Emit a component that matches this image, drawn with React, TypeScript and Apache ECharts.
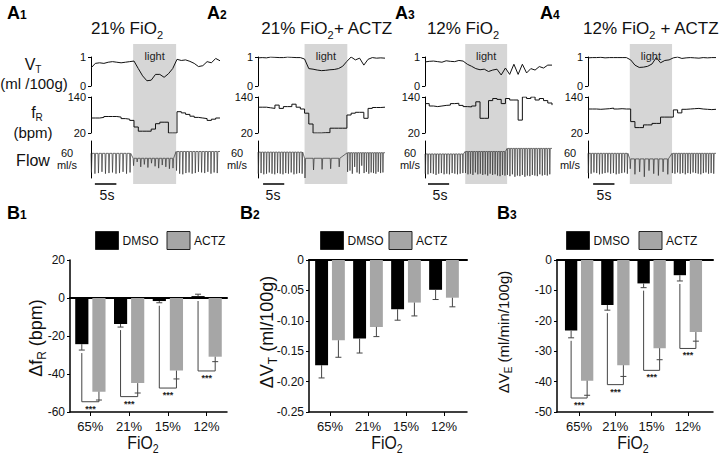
import { useEffect, useRef } from 'react';
import * as echarts from 'echarts';

const FONT = '"Liberation Sans", Arial, Helvetica, sans-serif';
const INK = '#111';

// ---------------- A: recordings (time in s, 0..30) ----------------
const traceTimes = [0, 1, 2, 3, 4, 5, 6, 7, 8, 9, 10, 11, 12, 13, 14, 15, 16, 17, 18, 19, 20, 21, 22, 23, 24, 25, 26, 27, 28, 29, 30];

const a1Vt = [0.62, 0.78, 0.8, 0.78, 0.82, 0.84, 0.82, 0.8, 0.82, 0.84, 0.86, 0.6, 0.35, 0.18, 0.2, 0.4, 0.4, 0.3, 0.42, 0.6, 0.92, 0.88, 0.9, 0.85, 0.78, 0.67, 0.7, 0.84, 0.8, 0.95, 0.87];
const a1Fr = [70, 70, 72, 75, 75, 75, 73, 68, 66, 62, 40, 26, 26, 26, 33, 51, 56, 56, 20, 20, 91, 87, 82, 76, 72, 70, 68, 62, 66, 70, 70];
const a2Vt = [0.97, 0.98, 0.97, 1.0, 0.99, 0.98, 0.98, 1.0, 0.99, 0.98, 0.98, 0.93, 0.6, 0.58, 0.55, 0.53, 0.54, 0.56, 0.57, 0.6, 0.68, 0.85, 1.0, 0.9, 0.96, 0.72, 0.92, 0.98, 0.96, 0.97, 0.96];
const a2Fr = [106, 106, 104, 102, 113, 102, 108, 108, 116, 106, 100, 86, 50, 20, 20, 21, 21, 36, 36, 36, 36, 80, 86, 89, 89, 69, 102, 105, 105, 106, 106];
const a3Vt = [0.83, 0.85, 0.86, 0.84, 0.82, 0.87, 0.85, 0.84, 0.88, 0.86, 0.75, 0.68, 0.6, 0.56, 0.58, 0.5, 0.55, 0.58, 0.38, 0.62, 0.4, 0.75, 0.4, 0.75, 0.45, 0.6, 0.55, 0.67, 0.62, 0.72, 0.72];
const a3Fr = [118, 110, 108, 110, 112, 113, 118, 119, 112, 108, 107, 110, 124, 69, 69, 128, 135, 132, 118, 135, 130, 130, 63, 140, 135, 140, 130, 135, 128, 120, 113];
const a4Vt = [0.97, 0.98, 0.98, 0.99, 0.97, 0.98, 0.98, 0.98, 0.98, 0.98, 0.9, 0.72, 0.64, 0.65, 0.68, 0.76, 0.98, 0.8, 0.88, 0.9, 0.97, 1.0, 0.95, 0.97, 0.98, 0.97, 0.96, 0.98, 0.97, 0.98, 0.98];
const a4Fr = [100, 100, 99, 100, 101, 103, 100, 101, 100, 100, 58, 38, 38, 47, 47, 52, 52, 73, 73, 73, 97, 87, 99, 100, 101, 102, 100, 99, 98, 99, 99];

// flow: one trough (ml/s) per breath, before / during / after light; baseline per segment
const a1FlowPre = [-31, -33, -32, -30, -33, -32, -31, -33, -32, -30, -33, -31];
const a1FlowLight = [-20, -14, -22, -18, -23, -16, -21, -24, -19, -22, -25, -24];
const a1FlowPost = [-28, -33, -34, -32, -31, -33, -32, -30, -31, -32, -30, -33, -31, -32];
const a1FlowTop = [0, -8, 3];
const a2FlowPre = [-33, -32, -34, -33, -31, -33, -34, -32, -33, -34, -32, -33, -31, -34, -33, -32, -33];
const a2FlowLight = [-40, -27, -26, -25, -22];
const a2FlowPost = [-30, -28, -33, -22, -31, -33, -20, -32, -30, -33, -31, -32, -33, -30, -32, -31];
const a2FlowTop = [2, -8, 1];
const a3FlowPre = [-33, -34, -32, -33, -35, -33, -32, -34, -33, -34, -32, -33, -34, -33, -32];
const a3FlowLight = [-32, -34, -33, -35, -31, -34, -33, -35, -34, -36, -33, -35, -34, -36, -37, -35, -36];
const a3FlowPost = [-35, -37, -34, -38, -36, -37, -35, -38, -36, -37, -35, -36, -37, -34, -36, -35, -36, -34];
const a3FlowTop = [-1, 3, 8];
const a4FlowPre = [-32, -33, -31, -32, -34, -33, -32, -31, -33, -32, -34, -33, -32, -31, -33];
const a4FlowLight = [-25, -34, -30, -38, -28, -33, -36, -30, -34];
const a4FlowPost = [-32, -33, -31, -33, -32, -34, -32, -33, -31, -32, -33, -34, -32, -31, -33, -32, -33];
const a4FlowTop = [0, -9, 0];

const lightOn = [9.8, 11, 9.5, 9.8];
const lightOff = [19.8, 21.1, 19.4, 19.7];
const scaleBarStart = [0.9, 1.2, 0.7, 1.2];
const scaleBarSeconds = 5;

const panelTitles = ['{a|21% FiO}{s|2}', '{a|21% FiO}{s|2}{a|+ ACTZ}', '{a|12% FiO}{s|2}', '{a|12% FiO}{s|2}{a| + ACTZ}'];

// ---------------- B: bar charts ----------------
const fioCategories = ['65%', '21%', '15%', '12%'];

const b1Dmso = [-24.3, -13.7, -1.6, 1.0];
const b1DmsoSem = [3.1, 1.6, 0.9, 1.0];
const b1Actz = [-49.3, -44.8, -38.2, -30.9];
const b1ActzSem = [4.4, 5.2, 4.4, 2.6];
const b1Bracket = [-54.6, -51.9, -47.4, -38.4];

const b2Dmso = [-0.173, -0.129, -0.081, -0.049];
const b2DmsoSem = [0.021, 0.024, 0.018, 0.016];
const b2Actz = [-0.132, -0.11, -0.07, -0.062];
const b2ActzSem = [0.028, 0.016, 0.022, 0.015];

const b3Dmso = [-23.2, -14.8, -7.7, -5.0];
const b3DmsoSem = [2.4, 1.7, 1.4, 1.9];
const b3Actz = [-39.7, -34.6, -29.0, -23.7];
const b3ActzSem = [4.8, 3.7, 3.8, 3.0];
const b3Bracket = [-45.4, -41.0, -36.3, -29.1];

// ---------------- layout ----------------
const panelLeft = [91, 258, 425, 588];
const panelWidth = [129, 127, 127, 128];
const BAR_FRAC = 0.34;
const GAP_FRAC = 0.3;

function flowLine(on: number, off: number, tops: number[], pre: number[], light: number[], post: number[]) {
  const segs: any[] = [[0, on, tops[0], pre], [on, off, tops[1], light], [off, 30, tops[2], post]];
  const pts: number[][] = [];
  segs.forEach(([t0, t1, top, troughs]) => {
    const d = (t1 - t0) / troughs.length;
    const down = Math.min(d * 0.12, 0.1);
    const up = Math.min(d * 0.3, 0.24);
    troughs.forEach((tr: number, i: number) => {
      const t = t0 + i * d;
      pts.push([t, top], [t + down, tr], [t + up, top]);
    });
  });
  pts.push([30, tops[2]]);
  return pts;
}

function barCenter(api: any, cat: number, side: number) {
  const c = api.coord([cat, 0]);
  const band = api.size([1, 0])[0];
  const bw = band * BAR_FRAC;
  return c[0] + (side * bw * (1 + GAP_FRAC)) / 2;
}

function errorSeries(xi: number, yi: number, vals: number[], sems: number[], side: number) {
  return {
    type: 'custom',
    xAxisIndex: xi,
    yAxisIndex: yi,
    silent: true,
    z: 3,
    encode: { x: 0, y: [1, 2] },
    data: vals.map((v, i) => [i, v, v + (v < 0 ? -1 : 1) * sems[i]]),
    renderItem: (_p: any, api: any) => {
      const cat = api.value(0);
      const x = barCenter(api, cat, side);
      const y0 = api.coord([cat, api.value(1)])[1];
      const y1 = api.coord([cat, api.value(2)])[1];
      const st = { stroke: '#444', lineWidth: 1 };
      return {
        type: 'group',
        children: [
          { type: 'line', shape: { x1: x, y1: y0, x2: x, y2: y1 }, style: st },
          { type: 'line', shape: { x1: x - 3, y1: y1, x2: x + 3, y2: y1 }, style: st },
        ],
      };
    },
  };
}

function bracketSeries(xi: number, yi: number, dmso: number[], dSem: number[], actz: number[], aSem: number[], levels: number[]) {
  return {
    type: 'custom',
    xAxisIndex: xi,
    yAxisIndex: yi,
    silent: true,
    z: 3,
    encode: { x: 0, y: [1, 2, 3] },
    data: levels.map((lv, i) => [i, dmso[i] + (dmso[i] < 0 ? -1 : 1) * dSem[i], actz[i] - aSem[i], lv]),
    renderItem: (_p: any, api: any) => {
      const cat = api.value(0);
      const xd = barCenter(api, cat, -1);
      const xa = barCenter(api, cat, 1);
      const yd = api.coord([cat, Math.min(0, api.value(1))])[1] + 3;
      const ya = api.coord([cat, api.value(2)])[1];
      const yl = api.coord([cat, api.value(3)])[1];
      return {
        type: 'group',
        children: [
          { type: 'polyline', shape: { points: [[xd, yd], [xd, yl], [xa, yl], [xa, ya]] }, style: { stroke: '#444', lineWidth: 1, fill: null } },
          { type: 'text', x: (xd + xa) / 2, y: yl + 7, style: { text: '***', fill: '#222', font: `bold 9px ${FONT}`, align: 'center', verticalAlign: 'middle' } },
        ],
      };
    },
  };
}

function buildOption() {
  const grid: any[] = [];
  const xAxis: any[] = [];
  const yAxis: any[] = [];
  const series: any[] = [];
  const legend: any[] = [];
  const addGrid = (g: any) => (grid.push(g), grid.length - 1);
  const addX = (a: any) => (xAxis.push(a), xAxis.length - 1);
  const addY = (a: any) => (yAxis.push(a), yAxis.length - 1);

  const panels = [
    { vt: a1Vt, fr: a1Fr, flow: flowLine(lightOn[0], lightOff[0], a1FlowTop, a1FlowPre, a1FlowLight, a1FlowPost) },
    { vt: a2Vt, fr: a2Fr, flow: flowLine(lightOn[1], lightOff[1], a2FlowTop, a2FlowPre, a2FlowLight, a2FlowPost) },
    { vt: a3Vt, fr: a3Fr, flow: flowLine(lightOn[2], lightOff[2], a3FlowTop, a3FlowPre, a3FlowLight, a3FlowPost) },
    { vt: a4Vt, fr: a4Fr, flow: flowLine(lightOn[3], lightOff[3], a4FlowTop, a4FlowPre, a4FlowLight, a4FlowPost) },
  ];

  const axisLabelStyle = { fontSize: 11, color: INK, fontFamily: FONT, margin: 5 };
  const traceAxisY = (gi: number, extra: any) => ({
    type: 'value',
    gridIndex: gi,
    axisLine: { show: true, lineStyle: { color: '#000', width: 1 } },
    axisTick: { show: true, length: 3, lineStyle: { color: '#000' } },
    axisLabel: axisLabelStyle,
    splitLine: { show: false },
    ...extra,
  });
  const timeX = (gi: number) => ({ type: 'value', gridIndex: gi, min: 0, max: 30, show: false });
  const lineStyle = { color: '#111', width: 1 };

  panels.forEach((p, i) => {
    const left = panelLeft[i];
    const width = panelWidth[i];
    // background: light window and 5 s scale bar
    let g = addGrid({ left, width, top: 44, height: 140 });
    let xi = addX(timeX(g));
    let yi = addY({ type: 'value', gridIndex: g, min: 0, max: 1, show: false });
    series.push({
      type: 'line', xAxisIndex: xi, yAxisIndex: yi, symbol: 'none', clip: false, silent: true, z: 1,
      data: [[scaleBarStart[i], 0], [scaleBarStart[i] + scaleBarSeconds, 0]],
      lineStyle: { color: '#000', width: 1.5 },
      markArea: {
        silent: true,
        itemStyle: { color: '#d6d6d6' },
        label: { show: true, position: 'insideTop', formatter: 'light', distance: 6, fontSize: 11, color: '#222', fontFamily: FONT },
        data: [[{ xAxis: lightOn[i] }, { xAxis: lightOff[i] }]],
      },
    });
    // VT
    g = addGrid({ left, width, top: 57, height: 29 });
    xi = addX(timeX(g));
    yi = addY(traceAxisY(g, { min: 0, max: 1, interval: 1 }));
    series.push({ type: 'line', xAxisIndex: xi, yAxisIndex: yi, symbol: 'none', z: 3, lineStyle, data: traceTimes.map((t, k) => [t, p.vt[k]]) });
    // fR
    g = addGrid({ left, width, top: 97, height: 36 });
    xi = addX(timeX(g));
    yi = addY(traceAxisY(g, {
      min: 20, max: 140,
      axisLabel: { ...axisLabelStyle, customValues: [20, 140] },
      axisTick: { show: true, length: 3, lineStyle: { color: '#000' }, customValues: [20, 140] },
    }));
    series.push({ type: 'line', step: 'end', xAxisIndex: xi, yAxisIndex: yi, symbol: 'none', z: 3, lineStyle, data: traceTimes.map((t, k) => [t, p.fr[k]]) });
    // Flow
    g = addGrid({ left, width, top: 141, height: 37 });
    xi = addX(timeX(g));
    yi = addY(traceAxisY(g, { min: -40, max: 20, axisTick: { show: false }, axisLabel: { show: false } }));
    series.push({ type: 'line', xAxisIndex: xi, yAxisIndex: yi, symbol: 'none', z: 3, lineStyle: { color: '#333', width: 0.7 }, data: p.flow });
  });

  const barCharts = [
    { dmso: b1Dmso, dSem: b1DmsoSem, actz: b1Actz, aSem: b1ActzSem, bracket: b1Bracket, min: -60, max: 20, interval: 20, axisLeft: 70, axisWidth: 157, barLeft: 71, barWidth: 155, legendLeft: 95, legendGap: 8, fmt: (v: number) => String(v) },
    { dmso: b2Dmso, dSem: b2DmsoSem, actz: b2Actz, aSem: b2ActzSem, bracket: null, min: -0.25, max: 0, interval: 0.05, axisLeft: 309, axisWidth: 158, barLeft: 311, barWidth: 152, legendLeft: 320, legendGap: 5, fmt: (v: number) => (v === 0 ? '0' : v.toFixed(2)) },
    { dmso: b3Dmso, dSem: b3DmsoSem, actz: b3Actz, aSem: b3ActzSem, bracket: b3Bracket, min: -50, max: 0, interval: 10, axisLeft: 557, axisWidth: 156, barLeft: 561, barWidth: 145, legendLeft: 566, legendGap: 9, fmt: (v: number) => String(v) },
  ];

  barCharts.forEach((b) => {
    const ga = addGrid({ left: b.axisLeft, width: b.axisWidth, top: 260, height: 152 });
    addX({ type: 'category', gridIndex: ga, data: fioCategories, axisLine: { onZero: false, lineStyle: { color: '#000', width: 1.5 } }, axisTick: { show: false }, axisLabel: { show: false } });
    addX({ type: 'category', gridIndex: ga, data: fioCategories, position: 'top', axisLine: { onZero: true, lineStyle: { color: '#000', width: 2 } }, axisTick: { show: false }, axisLabel: { show: false } });
    addY({
      type: 'value', gridIndex: ga, min: b.min, max: b.max, interval: b.interval,
      axisLine: { show: true, lineStyle: { color: '#000', width: 1.5 } },
      axisTick: { show: true, length: 3, lineStyle: { color: '#000' } },
      axisLabel: { fontSize: 12, color: INK, fontFamily: FONT, margin: 5, formatter: b.fmt },
      splitLine: { show: false },
    });
    const gb = addGrid({ left: b.barLeft, width: b.barWidth, top: 260, height: 152 });
    const xb = addX({
      type: 'category', gridIndex: gb, data: fioCategories,
      axisLine: { show: false, onZero: false },
      axisTick: { show: true, alignWithLabel: true, length: 4, lineStyle: { color: '#000' } },
      axisLabel: { fontSize: 13, color: INK, fontFamily: FONT, margin: 8 },
    });
    const yb = addY({ type: 'value', gridIndex: gb, min: b.min, max: b.max, show: false });
    series.push({ type: 'bar', name: 'DMSO', xAxisIndex: xb, yAxisIndex: yb, data: b.dmso, barWidth: `${BAR_FRAC * 100}%`, barGap: `${GAP_FRAC * 100}%`, itemStyle: { color: '#000' }, z: 2 });
    series.push({ type: 'bar', name: 'ACTZ', xAxisIndex: xb, yAxisIndex: yb, data: b.actz, barWidth: `${BAR_FRAC * 100}%`, barGap: `${GAP_FRAC * 100}%`, itemStyle: { color: '#a6a6a6' }, z: 2 });
    series.push(errorSeries(xb, yb, b.dmso, b.dSem, -1));
    series.push(errorSeries(xb, yb, b.actz, b.aSem, 1));
    if (b.bracket) series.push(bracketSeries(xb, yb, b.dmso, b.dSem, b.actz, b.aSem, b.bracket));
    legend.push({
      left: b.legendLeft, top: 231, padding: 0, itemWidth: 23, itemHeight: 18, itemGap: b.legendGap,
      icon: 'rect', selectedMode: false, data: ['DMSO', 'ACTZ'],
      textStyle: { fontSize: 12, color: INK, fontFamily: FONT, padding: [0, 0, 0, -1] },
      itemStyle: { borderColor: '#222', borderWidth: 1 },
    });
  });

  // ---------- texts ----------
  const r17 = {
    a: { fontSize: 17, lineHeight: 24, fontFamily: FONT, fill: INK },
    s: { fontSize: 11, lineHeight: 11, verticalAlign: 'bottom', fontFamily: FONT, fill: INK },
  };
  const r16 = {
    a: { fontSize: 16, lineHeight: 20, fontFamily: FONT, fill: INK },
    s: { fontSize: 10, lineHeight: 10, verticalAlign: 'bottom', fontFamily: FONT, fill: INK },
  };
  const r18 = {
    a: { fontSize: 18, lineHeight: 24, fontFamily: FONT, fill: INK },
    s: { fontSize: 12, lineHeight: 12, verticalAlign: 'bottom', fontFamily: FONT, fill: INK },
  };
  const r15 = {
    a: { fontSize: 15, lineHeight: 21, fontFamily: FONT, fill: INK },
    s: { fontSize: 10, lineHeight: 10, verticalAlign: 'bottom', fontFamily: FONT, fill: INK },
  };
  const rPanel = {
    a: { fontSize: 18, fontWeight: 'bold', lineHeight: 18, verticalAlign: 'bottom', fontFamily: FONT, fill: '#000' },
    n: { fontSize: 12, fontWeight: 'bold', lineHeight: 12, verticalAlign: 'bottom', padding: [0, 0, 1, 0], fontFamily: FONT, fill: '#000' },
  };
  const T = (x: number, y: number, text: string, rich: any, extra: any = {}) => ({
    type: 'text', x, y, silent: true, ...extra,
    style: { text, rich, align: extra.align || 'center', verticalAlign: 'middle' },
  });
  const P = (x: number, y: number, text: string, size: number) => ({
    type: 'text', x, y, silent: true,
    style: { text, fill: INK, font: `${size}px ${FONT}`, align: 'center', verticalAlign: 'middle' },
  });

  const graphic: any[] = [];
  [['A', '1', 7], ['A', '2', 207], ['A', '3', 395], ['A', '4', 540]].forEach(([l, n, x]) =>
    graphic.push(T(x as number, 13, `{a|${l}}{n|${n}}`, rPanel, { align: 'left' })),
  );
  [['B', '1', 7], ['B', '2', 240], ['B', '3', 497]].forEach(([l, n, x]) =>
    graphic.push(T(x as number, 213, `{a|${l}}{n|${n}}`, rPanel, { align: 'left' })),
  );
  const titleX = [127, 327, 463, 651];
  panelTitles.forEach((t, i) => graphic.push(T(titleX[i], 28, t, r17)));

  graphic.push(T(33, 64, '{a|V}{s|T}', r16));
  graphic.push(P(34, 83, '(ml /100g)', 15));
  graphic.push(T(37, 112, '{a|f}{s|R}', r16));
  graphic.push(P(33, 132, '(bpm)', 15));
  graphic.push(P(33, 160, 'Flow', 16));

  const flowLabelX = [67, 237, 410, 570];
  flowLabelX.forEach((x) => {
    graphic.push(P(x, 153, '60', 11));
    graphic.push(P(x, 165, 'ml/s', 11));
  });
  const fiveX = [107, 273, 440, 604];
  fiveX.forEach((x) => graphic.push(P(x, 195, '5s', 14)));

  graphic.push(T(36, 338, '{a|Δf}{s|R}{a| (bpm)}', r18, { rotation: Math.PI / 2 }));
  graphic.push(T(267, 332, '{a|ΔV}{s|T}{a| (ml/100g)}', r18, { rotation: Math.PI / 2 }));
  graphic.push(T(503, 332, '{a|ΔV}{s|E}{a| (ml/min/100g)}', r15, { rotation: Math.PI / 2 }));

  [143, 387, 633].forEach((x) => graphic.push(T(x, 443, '{a|FiO}{s|2}', r18, { scaleX: 0.88 })));

  return {
    animation: false,
    backgroundColor: '#fff',
    textStyle: { fontFamily: FONT },
    grid,
    xAxis,
    yAxis,
    series,
    legend,
    graphic,
  };
}

export default function App() {
  const ref = useRef<HTMLDivElement>(null);
  useEffect(() => {
    document.body.style.margin = '0';
    const chart = echarts.init(ref.current as HTMLDivElement, null, { renderer: 'svg' });
    chart.setOption(buildOption() as any);
    return () => chart.dispose();
  }, []);
  return <div ref={ref} style={{ width: 720, height: 456 }} />;
}
